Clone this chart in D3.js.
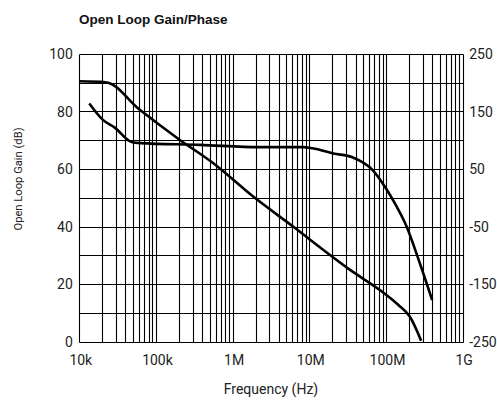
<!DOCTYPE html>
<html>
<head>
<meta charset="utf-8">
<script src="https://cdn.jsdelivr.net/npm/d3@7/dist/d3.min.js"></script>
<style>
  body { margin: 0; background: #fff; }
  svg { display: block; }
  .lbl { font-family: Roboto, "Liberation Sans", sans-serif; font-size: 14px; fill: #222; }
  .ytitle { font-family: Roboto, "Liberation Sans", sans-serif; font-size: 11.2px; fill: #222; }
  .title { font-family: "Liberation Sans", sans-serif; font-weight: bold; font-size: 13.5px; fill: #111; }
</style>
</head>
<body>
<script>
// axis ranges
const freqDomain = [1e4, 1e9];
const gainDomain = [0, 100];
const phaseDomain = [-250, 250];

// tick labels
const freqTicks = [1e4, 1e5, 1e6, 1e7, 1e8, 1e9];
const freqTickLabels = ['10k', '100k', '1M', '10M', '100M', '1G'];
const gainTicks = [0, 20, 40, 60, 80, 100];
const phaseTicks = [-250, -150, -50, 50, 150, 250];

// gain curve (Hz, dB)
const gainFreq = [1e4, 2.2e4, 6.2e4, 2.05e5, 5.6e5, 1.85e6, 6.2e6, 1.86e7, 3.4e7, 8.3e7, 1.45e8, 2.05e8, 2.87e8];
const gainDb   = [90.5, 90.2, 80.5, 70.1, 62.0, 50.4, 39.9, 30.1, 24.9, 17.9, 12.7, 8.6, 0.3];

// phase curve (Hz, degrees)
const phaseFreq = [1.35e4, 2.05e4, 2.9e4, 4.8e4, 6.2e4, 3.75e5, 2.27e6, 8.3e6, 1.1e7, 2.06e7, 3.7e7, 6.7e7, 1.0e8, 1.3e8, 1.86e8, 2.76e8, 4.0e8];
const phaseDeg  = [164, 135, 122, 97, 95, 92, 88, 88, 86, 77, 70, 48, 16, -9.5, -50.5, -114, -178];

const width = 497, height = 401;
const margin = { left: 79.3, right: 497 - 462.7, top: 54, bottom: 401 - 341.5 };

const svg = d3.select('body').append('svg')
    .attr('width', width)
    .attr('height', height);

const x = d3.scaleLog().domain(freqDomain).range([margin.left, width - margin.right]);
const yGain = d3.scaleLinear().domain(gainDomain).range([height - margin.bottom, margin.top]);
const yPhase = d3.scaleLinear().domain(phaseDomain).range([height - margin.bottom, margin.top]);

// snap a coordinate to the pixel centre so 1px lines stay sharp
const px = v => Math.round(v) + 0.5;

// grid: vertical lines at 1..9 x each decade
let vLines = [];
for (let e = 4; e < 9; e++) {
    for (let m = 1; m <= 9; m++) vLines.push(m * Math.pow(10, e));
}
vLines.push(1e9);
let hLines = d3.range(0, 101, 10);

const grid = svg.append('g').attr('stroke', '#000').attr('stroke-width', 1.1);
grid.selectAll('line.v').data(vLines).enter().append('line')
    .attr('class', 'v')
    .attr('x1', d => px(x(d))).attr('x2', d => px(x(d)))
    .attr('y1', px(yGain(100))).attr('y2', px(yGain(0)));
grid.selectAll('line.h').data(hLines).enter().append('line')
    .attr('class', 'h')
    .attr('x1', px(x(1e4))).attr('x2', px(x(1e9)))
    .attr('y1', d => px(yGain(d))).attr('y2', d => px(yGain(d)));

// curves
const gainLine = d3.line()
    .x((d, i) => x(gainFreq[i]))
    .y(d => yGain(d))
    .curve(d3.curveMonotoneX);
const phaseLine = d3.line()
    .x((d, i) => x(phaseFreq[i]))
    .y(d => yPhase(d))
    .curve(d3.curveMonotoneX);

svg.append('path').attr('d', gainLine(gainDb))
    .attr('fill', 'none').attr('stroke', '#000').attr('stroke-width', 2.6).attr('stroke-linejoin', 'round');
svg.append('path').attr('d', phaseLine(phaseDeg))
    .attr('fill', 'none').attr('stroke', '#000').attr('stroke-width', 2.6).attr('stroke-linejoin', 'round');

// left axis labels
svg.append('g').selectAll('text').data(gainTicks).enter().append('text')
    .attr('class', 'lbl')
    .attr('x', margin.left - 6.5)
    .attr('y', d => yGain(d))
    .attr('dy', '0.36em')
    .attr('text-anchor', 'end')
    .text(d => d);

// right axis labels
svg.append('g').selectAll('text').data(phaseTicks).enter().append('text')
    .attr('class', 'lbl')
    .attr('x', width - margin.right + 6.5)
    .attr('y', d => yPhase(d))
    .attr('dy', '0.36em')
    .attr('text-anchor', 'start')
    .text(d => d);

// bottom axis labels
svg.append('g').selectAll('text').data(freqTicks).enter().append('text')
    .attr('class', 'lbl')
    .attr('x', d => x(d) + 1.5)
    .attr('y', 365)
    .attr('text-anchor', 'middle')
    .text((d, i) => freqTickLabels[i]);

// titles
svg.append('text').attr('class', 'title')
    .attr('x', 79).attr('y', 24)
    .text('Open Loop Gain/Phase');

svg.append('text').attr('class', 'lbl')
    .attr('x', 271).attr('y', 394)
    .attr('text-anchor', 'middle')
    .text('Frequency (Hz)');

svg.append('text').attr('class', 'ytitle')
    .attr('transform', 'translate(22,179) rotate(-90)')
    .attr('text-anchor', 'middle')
    .text('Open Loop Gain (dB)');
</script>
</body>
</html>
